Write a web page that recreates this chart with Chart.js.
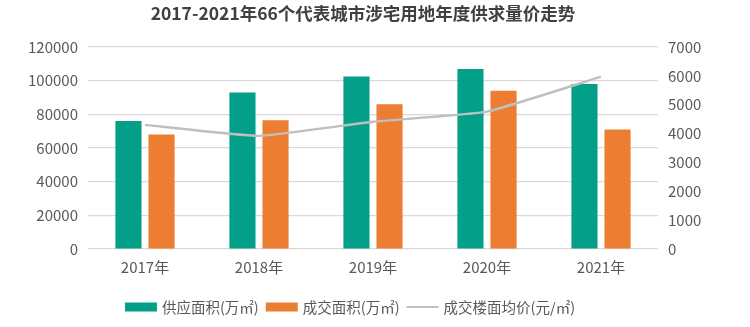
<!DOCTYPE html>
<html>
<head>
<meta charset="utf-8">
<script src="https://cdn.jsdelivr.net/npm/chart.js@4"></script>
<style>
  html, body { margin: 0; padding: 0; background: #fff; }
  #wrap { width: 750px; height: 327px; position: relative; }
</style>
</head>
<body>
<div id="wrap"><canvas id="c" width="750" height="327"></canvas></div>
<script>
const titleText = '2017-2021年66个代表城市涉宅用地年度供求量价走势';
const categories = ['2017年', '2018年', '2019年', '2020年', '2021年'];
const supplyArea = [76000, 93000, 102500, 107000, 98000];
const dealArea = [68000, 76500, 86000, 94000, 71000];
const avgPrice = [4300, 3920, 4410, 4760, 5970];
const seriesNames = ['供应面积(万㎡)', '成交面积(万㎡)', '成交楼面均价(元/㎡)'];
const leftTicks = [0, 20000, 40000, 60000, 80000, 100000, 120000];
const rightTicks = [0, 1000, 2000, 3000, 4000, 5000, 6000, 7000];

const FONT = '"Noto Sans CJK SC", "Noto Sans", sans-serif';
const TEXT = '#595959';

// Title and legend drawn on the canvas as real text
const decor = {
  id: 'decor',
  afterDraw(chart) {
    const ctx = chart.ctx;
    ctx.save();
    // title
    ctx.font = 'bold 17.5px ' + FONT;
    ctx.fillStyle = '#404040';
    ctx.textAlign = 'center';
    ctx.textBaseline = 'middle';
    ctx.fillText(titleText, 363, 13);

    // legend (order: supply, deal, price)
    const order = [1, 2, 0];
    ctx.font = '14.5px ' + FONT;
    const boxW = 32, boxH = 9, gapText = 5, gapItem = 7;
    const widths = order.map(i => boxW + gapText + ctx.measureText(chart.data.datasets[i].label).width);
    const total = widths.reduce((a, b) => a + b, 0) + gapItem * (order.length - 1);
    let x = 350 - total / 2;
    const y = 307;
    ctx.textAlign = 'left';
    order.forEach((i, k) => {
      const ds = chart.data.datasets[i];
      if (ds.type === 'line') {
        ctx.strokeStyle = ds.borderColor;
        ctx.lineWidth = 2;
        ctx.beginPath();
        ctx.moveTo(x, y);
        ctx.lineTo(x + boxW, y);
        ctx.stroke();
      } else {
        ctx.fillStyle = ds.backgroundColor;
        ctx.fillRect(x, y - boxH / 2, boxW, boxH);
      }
      ctx.fillStyle = TEXT;
      ctx.fillText(ds.label, x + boxW + gapText, y);
      x += widths[k] + gapItem;
    });
    ctx.restore();
  }
};

new Chart(document.getElementById('c'), {
  data: {
    labels: categories,
    datasets: [
      {
        type: 'line', label: seriesNames[2], data: avgPrice, yAxisID: 'y2',
        borderColor: '#BFBFBF', backgroundColor: '#BFBFBF', borderWidth: 2.4,
        pointRadius: 0, tension: 0.12, order: 0
      },
      {
        type: 'bar', label: seriesNames[0], data: supplyArea, yAxisID: 'y',
        backgroundColor: '#049F88', categoryPercentage: 0.58, barPercentage: 0.79, order: 1
      },
      {
        type: 'bar', label: seriesNames[1], data: dealArea, yAxisID: 'y',
        backgroundColor: '#ED7D31', categoryPercentage: 0.58, barPercentage: 0.79, order: 1
      }
    ]
  },
  plugins: [decor],
  options: {
    responsive: false,
    animation: false,
    devicePixelRatio: 1,
    layout: { padding: { left: 0, right: 0, top: 47, bottom: 0 } },
    plugins: {
      title: { display: false },
      legend: { display: false },
      tooltip: { enabled: false }
    },
    scales: {
      x: {
        grid: { display: false }, border: { display: false },
        afterFit: s => { s.height = 78; },
        ticks: { color: TEXT, font: { family: FONT, size: 15 }, padding: 1 }
      },
      y: {
        position: 'left', min: 0, max: 120000,
        afterBuildTicks: s => { s.ticks = leftTicks.map(v => ({ value: v })); },
        afterFit: s => { s.width = 88; },
        grid: { color: '#D9D9D9', lineWidth: 1.2, drawTicks: false },
        border: { display: false },
        ticks: { color: TEXT, font: { family: FONT, size: 15 }, padding: 10, callback: v => String(v) }
      },
      y2: {
        position: 'right', min: 0, max: 7000,
        afterBuildTicks: s => { s.ticks = rightTicks.map(v => ({ value: v })); },
        afterFit: s => { s.width = 92; },
        grid: { display: false, drawTicks: false }, border: { display: false },
        ticks: { color: TEXT, font: { family: FONT, size: 15 }, padding: 10, callback: v => String(v) }
      }
    }
  }
});
</script>
</body>
</html>
